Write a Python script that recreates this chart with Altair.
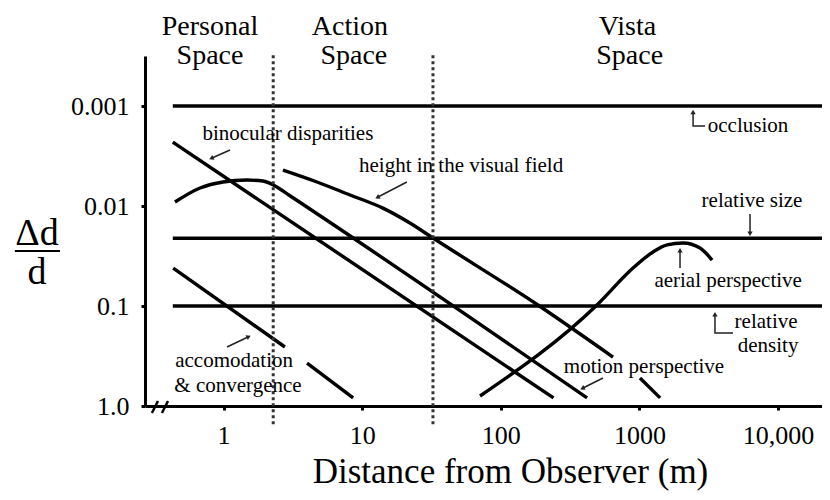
import math
import altair as alt
import pandas as pd

FONT = "Liberation Serif"

# ---------------- data (distance in m, delta-d / d) ----------------
binocular_x = [0.43, 240]
binocular_y = [0.0023, 0.83]
motion_x = [0.446, 0.676, 0.99, 1.475, 1.924, 2.35, 3.01, 419]
motion_y = [0.00912, 0.00661, 0.00575, 0.0055, 0.00562, 0.0063, 0.0079, 0.83]
height_x = [2.68, 4.72, 8.17, 14.1, 22.1, 32.4, 185, 645]
height_y = [0.00437, 0.00575, 0.00776, 0.0105, 0.0148, 0.0209, 0.0977, 0.324]
height2_x = [1009, 1410]
height2_y = [0.525, 0.83]
aerial_x = [70.8, 494, 899, 1254, 1582, 2065, 2737, 3342]
aerial_y = [0.794, 0.0977, 0.0417, 0.0288, 0.0245, 0.0234, 0.0263, 0.0347]
accom_x = [0.433, 2.77]
accom_y = [0.0417, 0.257]
accom2_x = [4.0, 8.6]
accom2_y = [0.372, 0.83]

flat_names = ["occlusion", "relative size", "relative density"]
flat_y = [0.001, 0.021, 0.1]
flat_x = [0.43, 20760]

space_bounds = [2.28, 32.4]
space_bound_y = [0.00031, 1.55]

break_x = [[0.304, 0.336], [0.3593, 0.397]]
break_y = [1.175, 0.891]

header_text = ["Personal", "Space", "Action", "Space", "Vista", "Space"]
header_x = [0.798, 0.798, 8.15, 8.7, 820, 850]
header_y = [0.000195, 0.00038, 0.000195, 0.00038, 0.000195, 0.00038]

label_text = ["binocular disparities", "height in the visual field", "occlusion",
              "relative size", "aerial perspective", "relative", "density",
              "motion perspective", "accomodation", "& convergence"]
label_x = [2.91, 51.7, 6070, 6490, 4365, 8200, 8480, 1079, 1.19, 1.27]
label_y = [0.00219, 0.00457, 0.00182, 0.0102, 0.0646, 0.166, 0.288, 0.468, 0.407, 0.724]

# arrows: polylines, last point is the head
arrow_x = [[1.112, 0.825], [21.0, 13.0], [2974, 2438, 2438], [6280, 6280],
           [1963, 1963], [4732, 3508, 3508], [546, 392], [1.058, 1.50]]
arrow_y = [[0.00275, 0.00331], [0.00575, 0.00813], [0.00158, 0.00158, 0.00117],
           [0.0120, 0.0186], [0.0417, 0.0282], [0.186, 0.186, 0.123],
           [0.525, 0.661], [0.257, 0.204]]

ylab_text = ["\u0394d", "d"]
ylab_x = [0.0451, 0.0451]
ylab_y = [0.0245, 0.0603]
ybar_x = [0.0312, 0.066]
ybar_y = 0.0282

x_ticks = [1, 10, 100, 1000, 10000]
x_tick_labels = ["1", "10", "100", "1000", "10,000"]
y_ticks = [0.001, 0.01, 0.1, 1]
y_tick_labels = ["0.001", "0.01", "0.1", "1.0"]

X_DOMAIN = [0.271, 20760]
Y_DOMAIN = [0.000316, 1]
W, H = 677, 350

# ---------------- tables ----------------
rows = []
def add(series, xs, ys):
    for i, (a, b) in enumerate(zip(xs, ys)):
        rows.append({"series": series, "i": i, "x": a, "y": b})

add("binocular", binocular_x, binocular_y)
add("motion", motion_x, motion_y)
add("height", height_x, height_y)
add("height2", height2_x, height2_y)
add("aerial", aerial_x, aerial_y)
add("accom", accom_x, accom_y)
add("accom2", accom2_x, accom2_y)
for n, v in zip(flat_names, flat_y):
    add(n, flat_x, [v, v])
curves = pd.DataFrame(rows)

dots = pd.DataFrame([{"s": k, "i": i, "x": b, "y": yy}
                     for k, b in enumerate(space_bounds)
                     for i, yy in enumerate(space_bound_y)])

brk = pd.DataFrame([{"s": k, "i": i, "x": xs[i], "y": break_y[i]}
                    for k, xs in enumerate(break_x) for i in range(2)])

heads = pd.DataFrame([{"h": t, "x": header_x[k], "y": header_y[k]}
                      for k, t in enumerate(header_text)])
labels = pd.DataFrame({"t": label_text, "x": label_x, "y": label_y})
ylab = pd.DataFrame({"t": ylab_text, "x": ylab_x, "y": ylab_y})
ybar = pd.DataFrame({"x": [ybar_x[0]], "x2": [ybar_x[1]], "y": [ybar_y]})

px_dec_x = W / (math.log10(X_DOMAIN[1]) - math.log10(X_DOMAIN[0]))
px_dec_y = H / (math.log10(Y_DOMAIN[1]) - math.log10(Y_DOMAIN[0]))
arows, hrows = [], []
for k, (xs, ys) in enumerate(zip(arrow_x, arrow_y)):
    for i, (a, b) in enumerate(zip(xs, ys)):
        arows.append({"a": k, "i": i, "x": a, "y": b})
    dx = px_dec_x * (math.log10(xs[-1]) - math.log10(xs[-2]))
    dy = px_dec_y * (math.log10(ys[-1]) - math.log10(ys[-2]))
    ang = (math.degrees(math.atan2(dx, -dy)) + 360) % 360
    hrows.append({"x": xs[-1], "y": ys[-1], "ang": ang})
arrows = pd.DataFrame(arows)
arrow_heads = pd.DataFrame(hrows)

# ---------------- encodings ----------------
def lab_expr(vals, labs):
    e = "''"
    for v, l in reversed(list(zip(vals, labs))):
        e = f"abs(datum.value / {v} - 1) < 1e-6 ? '{l}' : ({e})"
    return e

xscale = alt.Scale(type="log", domain=X_DOMAIN, nice=False, zero=False)
yscale = alt.Scale(type="log", domain=Y_DOMAIN, nice=False, zero=False, reverse=True)
xaxis = alt.Axis(values=x_ticks, labelExpr=lab_expr(x_ticks, x_tick_labels),
                 title="Distance from Observer (m)", grid=False,
                 labelFont=FONT, labelFontSize=26, labelColor="black",
                 labelPadding=12, tickSize=4, tickWidth=3, tickColor="black",
                 domainColor="black", domainWidth=3, labelFlush=False,
                 titleFont=FONT, titleFontSize=35, titleFontWeight="normal",
                 titleColor="black", titleX=365, titleY=76,
                 titleAlign="center", titleBaseline="alphabetic")
yaxis = alt.Axis(values=y_ticks, labelExpr=lab_expr(y_ticks, y_tick_labels),
                 title=None, grid=False,
                 labelFont=FONT, labelFontSize=26, labelColor="black",
                 labelPadding=12, tickSize=4, tickWidth=3, tickColor="black",
                 domainColor="black", domainWidth=3, labelFlush=False)
X = alt.X("x:Q", scale=xscale, axis=xaxis)
Y = alt.Y("y:Q", scale=yscale, axis=yaxis)

curve_layer = alt.Chart(curves).mark_line(color="black", strokeWidth=3.4,
                                          interpolate="monotone").encode(
    x=X, y=Y, detail="series:N", order="i:Q")
dot_layer = alt.Chart(dots).mark_line(color="#333", strokeWidth=3, strokeDash=[3, 3]).encode(
    x=X, y=Y, detail="s:N", order="i:Q")
brk_layer = alt.Chart(brk).mark_line(color="black", strokeWidth=2.5).encode(
    x=X, y=Y, detail="s:N", order="i:Q")
arrow_layer = alt.Chart(arrows).mark_line(color="#222", strokeWidth=1.5).encode(
    x=X, y=Y, detail="a:N", order="i:Q")
head_layer = alt.Chart(arrow_heads).mark_point(shape="triangle", filled=True, color="#222",
                                               size=28, opacity=1).encode(
    x=X, y=Y, angle=alt.Angle("ang:Q", scale=None))
header_layer = alt.Chart(heads).mark_text(font=FONT, fontSize=28, color="black",
                                          align="center", baseline="alphabetic").encode(
    x=X, y=Y, text="h:N")
label_layer = alt.Chart(labels).mark_text(font=FONT, fontSize=21, color="black",
                                          align="center", baseline="alphabetic").encode(
    x=X, y=Y, text="t:N")
ylab_layer = alt.Chart(ylab).mark_text(font=FONT, fontSize=38, color="black",
                                       align="center", baseline="alphabetic").encode(
    x=X, y=Y, text="t:N")
ybar_layer = alt.Chart(ybar).mark_rule(color="black", strokeWidth=2).encode(
    x=X, x2="x2:Q", y=Y)

chart = alt.layer(
    curve_layer, dot_layer, brk_layer, arrow_layer, head_layer,
    header_layer, label_layer, ylab_layer, ybar_layer
).properties(
    width=W, height=H,
    autosize=alt.AutoSizeParams(type="none"),
    padding={"left": 137, "top": 48, "right": 0, "bottom": 86},
    background="white",
).configure_view(stroke=None)

chart.save("out.html", embed_options={"renderer": "svg", "actions": False})
